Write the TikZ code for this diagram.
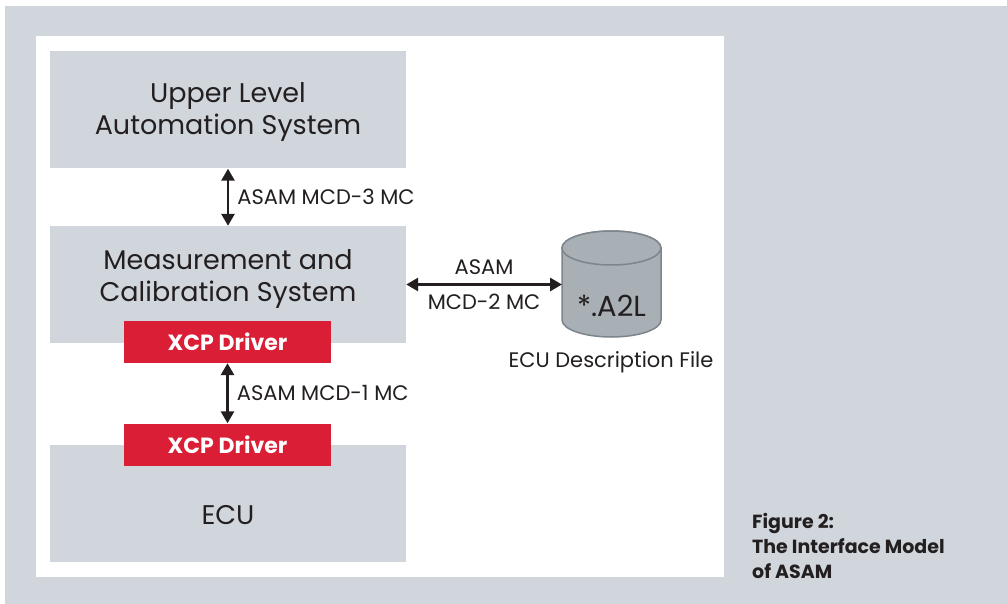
\documentclass[tikz,border=0pt]{standalone}
\usepackage{fontspec}
\setmainfont{Poppins}
\usetikzlibrary{arrows.meta}
\definecolor{panelgrey}{RGB}{208,214,220}
\definecolor{xcpred}{RGB}{217,30,54}
\definecolor{dbgrey}{RGB}{168,175,181}
\definecolor{dbedge}{RGB}{125,133,140}
\definecolor{inkdark}{RGB}{35,31,32}

\begin{document}
\begin{tikzpicture}[x=1pt,y=-1pt,
  sysbox/.style={fill=panelgrey,minimum width=356pt,minimum height=117pt,inner sep=0pt},
  xcpbox/.style={fill=xcpred,text=white,font=\fontsize{22}{24}\selectfont\bfseries,minimum width=207pt,minimum height=42pt,inner sep=0pt},
  boxtext/.style={text=inkdark,font=\fontsize{27}{31.5}\selectfont,align=center,inner sep=0pt},
  ifacetext/.style={text=inkdark,font=\fontsize{21}{24}\selectfont,inner sep=0pt},
  dbshape/.style={draw=dbedge,line width=1.5pt,fill=dbgrey},
  link/.style={{Triangle[length=12pt,width=13pt]}-{Triangle[length=12pt,width=13pt]},line width=2.8pt,draw=inkdark}]
 \useasboundingbox (0,0) rectangle (1007,604);
 \fill[panelgrey] (5,6) rectangle (1007,604);
 \fill[white] (36,36) rectangle (724,577);
 \node[sysbox] (upper) at (228,110) {};
 \node[boxtext] (uppertext) at (228,112) {Upper Level\\Automation System};
 \node[sysbox] (mcs) at (228,284.5) {};
 \node[boxtext] (mcstext) at (228,279) {Measurement and\\Calibration System};
 \node[xcpbox] (xcptop) at (227.5,342) {XCP Driver};
 \node[sysbox] (ecu) at (228,503.5) {};
 \node[xcpbox] (xcpbottom) at (227.5,444.5) {XCP Driver};
 \node[boxtext] (ecutext) at (228,515) {ECU};
 \filldraw[dbshape] (562,248) -- (562,320) arc[start angle=180,end angle=360,x radius=49.5pt,y radius=17pt]
   -- (661,248) arc[start angle=0,end angle=180,x radius=49.5pt,y radius=17pt] -- cycle;
 \draw[dbshape] (611.5,248) ellipse [x radius=49.5pt,y radius=17pt];
 \coordinate (a2l) at (562,284.5);
 \node[text=inkdark,font=\fontsize{29}{30}\selectfont,inner sep=0pt] (a2ltext) at (611.5,306) {*.A2L};
 \node[ifacetext] (a2lcap) at (611,362) {ECU Description File};
 \draw[link] (upper.south) -- (mcs.north) node[midway,anchor=west,xshift=8pt,ifacetext] {ASAM MCD-3 MC};
 \draw[link] (xcptop.south) -- (xcpbottom.north) node[midway,anchor=west,xshift=8pt,ifacetext] {ASAM MCD-1 MC};
 \draw[link] (mcs.east) -- (a2l) node[midway,above=8.5pt,ifacetext] {ASAM} node[midway,below=8pt,ifacetext] {MCD-2 MC};
 \node[anchor=north west,align=left,font=\fontsize{19}{25}\selectfont\bfseries,text=inkdark,inner sep=0pt] (caption) at (752,513) {Figure 2:\\The Interface Model\\of ASAM};
\end{tikzpicture}
\end{document}
